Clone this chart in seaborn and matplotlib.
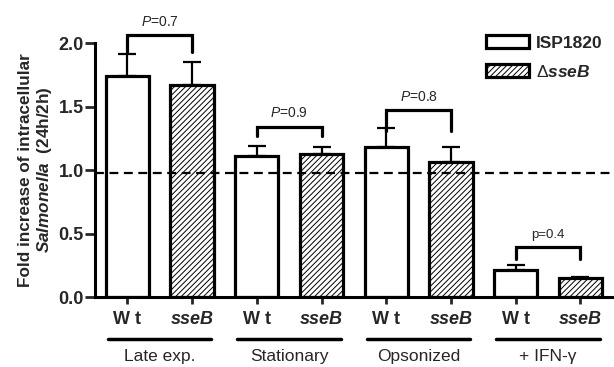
import matplotlib
matplotlib.use("Agg")
import matplotlib.pyplot as plt
import matplotlib.transforms as mtransforms
from matplotlib.patches import Patch
import numpy as np
import pandas as pd
import seaborn as sns

# data
groups = ["Late exp.", "Stationary", "Opsonized", "+ IFN-\u03b3"]
strains = ["Wt", "sseB"]
means = [1.74, 1.67, 1.11, 1.13, 1.18, 1.06, 0.21, 0.15]
errors = [0.17, 0.18, 0.08, 0.05, 0.15, 0.12, 0.04, 0.01]
p_labels = [r"$\mathit{P}$=0.7", r"$\mathit{P}$=0.9", r"$\mathit{P}$=0.8", "p=0.4"]
bracket_top = [2.06, 1.34, 1.47, 0.39]
bracket_leg = [1.93, 1.27, 1.31, 0.30]
baseline = 0.98

sns.set_style("white")
plt.rcParams["font.family"] = ["Liberation Sans", "DejaVu Sans"]
plt.rcParams["mathtext.fontset"] = "custom"
plt.rcParams["mathtext.rm"] = "Liberation Sans"
plt.rcParams["mathtext.it"] = "Liberation Sans:italic"
plt.rcParams["mathtext.bf"] = "Liberation Sans:bold"
plt.rcParams["mathtext.bfit"] = "Liberation Sans:bold:italic"
plt.rcParams["hatch.linewidth"] = 0.7

bar_ids = [f"{g}|{s}" for g in groups for s in strains]
df = pd.DataFrame({"bar": bar_ids, "value": means})

fig = plt.figure(figsize=(6.14, 3.67), dpi=100)
ax = fig.add_axes([0.1547, 0.1907, 0.8433, 0.6921])

sns.barplot(data=df, x="bar", y="value", order=bar_ids, color="white",
            edgecolor="black", linewidth=2.3, width=0.67, errorbar=None,
            saturation=1, ax=ax)
for i, patch in enumerate(ax.patches):
    patch.set_facecolor("white")
    if i % 2 == 1:
        patch.set_hatch("//////")

x = np.arange(len(means))
ax.errorbar(x, means, yerr=[np.zeros(len(errors)), errors], fmt="none",
            ecolor="black", elinewidth=1.6, capsize=6.5, capthick=1.6, zorder=1)

ax.axhline(baseline, color="black", lw=1.6, ls=(0, (4, 2.5)), zorder=5)

ax.set_xlim(-0.5, len(means) - 0.5)
ax.set_ylim(0, 2.0)
ax.set_yticks([0, 0.5, 1.0, 1.5, 2.0])
ax.set_yticklabels(["0.0", "0.5", "1.0", "1.5", "2.0"], fontsize=13, fontweight="bold")
ax.set_xticks(x)
ax.set_xticklabels([])
ax.tick_params(axis="y", left=True, length=7, width=2, pad=1)
ax.tick_params(axis="x", bottom=True, length=5, width=2)
for side in ["top", "right"]:
    ax.spines[side].set_visible(False)
for side in ["left", "bottom"]:
    ax.spines[side].set_linewidth(2.2)
    ax.spines[side].set_color("black")

ax.set_xlabel("")
ax.set_ylabel("Fold increase of intracellular\n$\\mathbfit{Salmonella}$  (24h/2h)",
              fontsize=12.3, fontweight="bold", labelpad=3, linespacing=1.15)

# strain labels, underlines and group names below the axis
trans = mtransforms.blended_transform_factory(ax.transData, ax.transAxes)
for gi, g in enumerate(groups):
    x0, x1 = 2 * gi, 2 * gi + 1
    ax.text(x0, -0.09, "W t", transform=trans, ha="center", va="center",
            fontsize=13, fontweight="bold")
    ax.text(x1, -0.09, "sseB", transform=trans, ha="center", va="center",
            fontsize=13, fontweight="bold", style="italic")
    ax.plot([x0 - 0.3, x1 + 0.3], [-0.165, -0.165], transform=trans,
            color="black", lw=2.5, clip_on=False)
    ax.text((x0 + x1) / 2, -0.235, g, transform=trans, ha="center", va="center",
            fontsize=12.5)

    # significance brackets
    ax.plot([x0, x0, x1, x1],
            [bracket_leg[gi], bracket_top[gi], bracket_top[gi], bracket_leg[gi]],
            color="black", lw=2.3, clip_on=False, solid_joinstyle="miter")
    ax.text((x0 + x1) / 2, bracket_top[gi] + 0.05, p_labels[gi], ha="center",
            va="bottom", fontsize=10 if gi < 3 else 9.5, clip_on=False)

handles = [Patch(facecolor="white", edgecolor="black", linewidth=2.3),
           Patch(facecolor="white", edgecolor="black", linewidth=2.3, hatch="//////")]
leg = ax.legend(handles, ["ISP1820", r"$\Delta\mathbfit{sseB}$"], loc="upper left",
                bbox_to_anchor=(0.755, 1.03), frameon=False, fontsize=12.5,
                handlelength=2.5, handleheight=0.75, handletextpad=0.4,
                labelspacing=0.75, borderpad=0, borderaxespad=0)
leg.get_texts()[0].set_fontweight("bold")

fig.savefig("out.png", dpi=100)
